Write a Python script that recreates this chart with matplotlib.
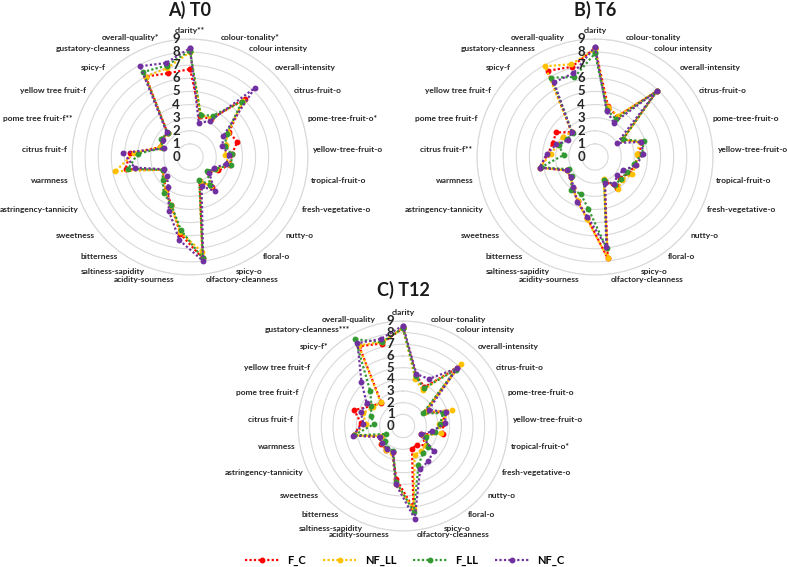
import numpy as np
import matplotlib
matplotlib.use("Agg")
import matplotlib.pyplot as plt

plt.rcParams['font.family'] = ['Lato', 'DejaVu Sans']

atributos = ["clarity", "colour-tonality", "colour intensity", "overall-intensity",
             "citrus-fruit-o", "pome-tree-fruit-o", "yellow-tree-fruit-o", "tropical-fruit-o",
             "fresh-vegetative-o", "nutty-o", "floral-o", "spicy-o", "olfactory-cleanness",
             "acidity-sourness", "saltiness-sapidity", "bitterness", "sweetness",
             "astringency-tannicity", "warmness", "citrus fruit-f", "pome tree fruit-f",
             "yellow tree fruit-f", "spicy-f", "gustatory-cleanness", "overall-quality"]

# rotulos com marca de significancia em cada tempo
rotulos_T0 = list(atributos)
rotulos_T0[0] = "clarity**"
rotulos_T0[1] = "colour-tonality*"
rotulos_T0[5] = "pome-tree-fruit-o*"
rotulos_T0[20] = "pome tree fruit-f**"
rotulos_T0[24] = "overall-quality*"

rotulos_T6 = list(atributos)
rotulos_T6[19] = "citrus fruit-f**"

rotulos_T12 = list(atributos)
rotulos_T12[7] = "tropical-fruit-o*"
rotulos_T12[22] = "spicy-f*"
rotulos_T12[23] = "gustatory-cleanness***"

series = ["F_C", "NF_LL", "F_LL", "NF_C"]
cores = ["#ff0000", "#ffc000", "#339933", "#7030a0"]

# T0
T0_F_C = [6.7, 3.2, 3.3, 6.1, 3.5, 3.8, 3.2, 3.1, 2.4, 1.8, 2.8, 2.0, 7.8, 5.9, 3.9, 3.1, 2.6, 2.3, 5.0, 4.6, 2.4, 2.5, 2.5, 7.0, 6.6]
T0_NF_LL = [8.0, 3.3, 3.4, 5.9, 3.4, 2.9, 2.7, 3.0, 2.2, 1.8, 2.7, 2.0, 7.3, 5.8, 4.0, 3.2, 2.6, 2.3, 5.8, 4.3, 2.4, 2.5, 2.5, 7.0, 7.0]
T0_F_LL = [8.1, 3.3, 3.6, 5.8, 3.3, 2.8, 3.2, 3.2, 2.1, 1.7, 2.6, 1.9, 7.8, 5.6, 3.9, 3.4, 2.7, 2.3, 4.8, 4.0, 2.2, 2.6, 2.5, 7.4, 7.2]
T0_NF_C = [8.3, 2.7, 3.1, 7.2, 3.0, 2.6, 3.0, 2.8, 2.0, 1.9, 3.2, 2.4, 8.0, 6.4, 4.4, 2.8, 2.3, 2.2, 4.3, 5.1, 2.1, 2.4, 2.6, 7.9, 7.4]

# T6
T6_F_C = [8.3, 4.0, 3.5, 6.9, 2.5, 3.7, 3.4, 3.1, 2.9, 2.5, 2.9, 2.0, 7.8, 4.7, 3.6, 2.9, 2.4, 2.4, 4.3, 3.6, 3.4, 3.5, 2.6, 7.5, 7.1]
T6_NF_LL = [8.2, 3.9, 3.6, 6.9, 2.5, 3.6, 3.2, 3.2, 3.1, 2.7, 3.0, 1.8, 7.8, 4.8, 3.6, 2.9, 2.4, 2.4, 4.3, 3.4, 3.0, 2.9, 2.6, 7.9, 7.3]
T6_F_LL = [7.9, 3.7, 3.3, 6.9, 2.5, 3.9, 3.6, 3.0, 2.7, 2.6, 2.6, 1.9, 7.0, 4.0, 3.0, 3.1, 2.3, 2.2, 4.2, 2.4, 2.9, 2.5, 2.5, 6.9, 6.3]
T6_NF_C = [8.4, 3.6, 3.0, 6.9, 2.0, 3.7, 3.7, 3.2, 2.4, 2.2, 2.5, 2.1, 6.9, 4.6, 3.7, 2.8, 2.4, 2.4, 4.3, 3.7, 3.1, 2.4, 2.6, 6.5, 6.6]

# T12
T12_F_C = [8.4, 4.5, 3.8, 6.8, 2.2, 3.8, 3.4, 3.5, 1.7, 2.6, 2.0, 2.1, 7.1, 4.6, 2.4, 2.5, 2.4, 2.2, 4.3, 3.6, 4.4, 3.2, 2.7, 7.8, 7.3]
T12_NF_LL = [8.4, 4.2, 3.5, 7.3, 2.2, 4.4, 3.1, 3.3, 2.0, 2.6, 2.6, 2.7, 7.2, 5.0, 2.5, 2.5, 2.3, 2.0, 4.3, 3.2, 3.6, 3.0, 2.8, 7.9, 7.4]
T12_F_LL = [8.4, 4.4, 3.7, 6.6, 2.0, 3.6, 3.2, 2.8, 2.2, 2.8, 2.9, 3.6, 7.4, 4.8, 2.3, 2.3, 2.0, 1.6, 4.3, 2.5, 2.9, 3.2, 4.1, 8.5, 7.4]
T12_NF_C = [8.6, 4.6, 4.6, 6.8, 2.6, 3.9, 3.6, 2.5, 1.7, 3.4, 3.7, 4.0, 8.0, 5.0, 2.4, 2.4, 2.3, 2.2, 4.4, 3.4, 3.8, 3.7, 5.2, 8.1, 7.7]

# titulo, rotulos, series, (centro x, centro y, raio, y do titulo) em pixels
paineis = [
    ("A) T0", rotulos_T0, [T0_F_C, T0_NF_LL, T0_F_LL, T0_NF_C], (190, 157, 118, 10)),
    ("B) T6", rotulos_T6, [T6_F_C, T6_NF_LL, T6_F_LL, T6_NF_C], (595, 157, 118, 10)),
    ("C) T12", rotulos_T12, [T12_F_C, T12_NF_LL, T12_F_LL, T12_NF_C], (403, 426, 105, 290)),
]

W, H = 787, 567
fig = plt.figure(figsize=(W / 100, H / 100), dpi=100)

n = len(atributos)
angulos = np.arange(n) * 2 * np.pi / n
ang_fechado = np.append(angulos, angulos[0])

for titulo, rotulos, dados, (cx, cy, raio, ty) in paineis:
    ax = fig.add_axes([(cx - raio) / W, (H - cy - raio) / H, 2 * raio / W, 2 * raio / H],
                      projection='polar')
    ax.set_theta_zero_location('N')
    ax.set_theta_direction(-1)
    ax.set_ylim(0, 9)
    ax.set_xticks([])
    ax.set_yticks(range(1, 10))
    ax.set_yticklabels([])
    ax.yaxis.grid(True, color='#d9d9d9', linewidth=0.8)
    ax.xaxis.grid(False)
    ax.spines['polar'].set_color('#d9d9d9')
    ax.spines['polar'].set_linewidth(0.8)
    ax.patch.set_alpha(0)

    for vals, cor in zip(dados, cores):
        v = np.append(vals, vals[0])
        ax.plot(ang_fechado, v, linestyle=(0, (1, 1)), linewidth=1.6, color=cor,
                marker='o', markersize=3.2, clip_on=False, zorder=3)

    # numeros do eixo radial
    for r in range(10):
        ax.annotate(str(r), xy=(0, r), xytext=(-10 * raio / 118, 0), textcoords='offset points',
                    ha='center', va='center', fontsize=9.5, fontweight='bold',
                    color='#262626', zorder=5, annotation_clip=False)

    # rotulos dos atributos
    for ang, rot in zip(angulos, rotulos):
        s = np.sin(ang)
        if abs(s) < 0.01:
            ha = 'center'
        elif s > 0:
            ha = 'left'
        else:
            ha = 'right'
        va = 'bottom' if ang == 0 else 'center'
        ax.text(ang, 9 * 1.045, rot, ha=ha, va=va, fontsize=6.0, fontweight='bold',
                color='#262626')

    fig.text(cx / W, 1 - ty / H, titulo, ha='center', va='center', fontsize=13,
             fontweight='bold', color='#1a1a1a')

fig.legend(handles=fig.axes[2].lines[:4], labels=series, loc='center',
           bbox_to_anchor=(405 / W, 1 - 560 / H), ncol=4, frameon=False,
           prop={'weight': 'bold', 'size': 8}, handlelength=3, columnspacing=1.5)

fig.savefig("out.png", dpi=100)
